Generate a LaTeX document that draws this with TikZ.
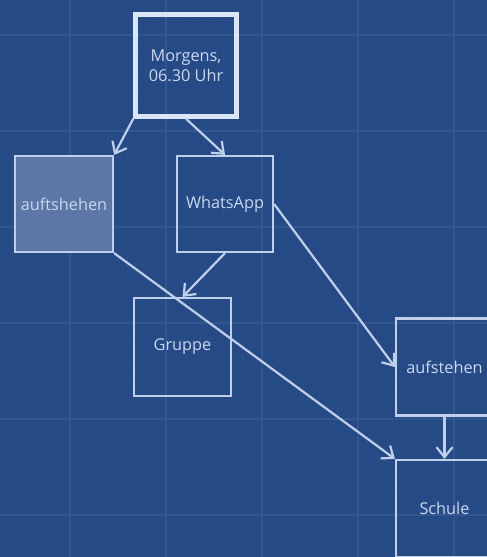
\documentclass[tikz,border=0pt]{standalone}
\usepackage{fontspec}
\setmainfont{Open Sans}
\usetikzlibrary{arrows.meta}
\definecolor{bg}{RGB}{38,74,133}
\definecolor{gmajor}{RGB}{50,86,144}
\definecolor{gminor}{RGB}{42,78,137}
\definecolor{edge}{RGB}{192,208,234}
\definecolor{edgehi}{RGB}{218,229,245}
\definecolor{txt}{RGB}{202,215,237}
\definecolor{boxfill}{RGB}{92,119,166}
\begin{document}
\begin{tikzpicture}[x=1pt,y=-1pt,
  box/.style={draw=edge, line width=2.2pt, minimum width=97pt, minimum height=97pt,
    inner sep=0pt, text=txt, font=\fontsize{16.3}{20}\selectfont, align=center},
  startbox/.style={box, draw=edgehi, line width=4.5pt, minimum width=101pt, minimum height=102pt},
  conn/.style={draw=edge, line width=2.2pt, -{Straight Barb[length=10pt,width=16pt,line width=2.2pt]}}]
\useasboundingbox (0,0) rectangle (487,557);
\fill[bg] (0,0) rectangle (487,557);
\begin{scope}
\clip (0,0) rectangle (487,557);
\foreach \i in {-7,...,26} {
  \draw[gminor, line width=0.8pt] ({-26+19.2*\i},0) -- ({-26+19.2*\i},557);
  \draw[gminor, line width=0.8pt] (0,{35+19.2*(\i-2)}) -- (487,{35+19.2*(\i-2)});
}
\foreach \i in {0,...,6} {
  \draw[gmajor, line width=1.4pt] ({-26+96*\i},0) -- ({-26+96*\i},557);
  \draw[gmajor, line width=1.4pt] (0,{35+96*(\i-1)}) -- (487,{35+96*(\i-1)});
}
\end{scope}
\node[startbox] (m) at (186,65.5) {Morgens,\\06.30 Uhr};
\node[box, fill=boxfill, minimum width=98pt, minimum height=96pt] (a1) at (64,204) {auftshehen};
\node[box, minimum width=96pt, minimum height=96pt] (w) at (225,204) {WhatsApp};
\node[box, minimum height=98pt] (g) at (182.5,347) {Gruppe};
\node[box] (au) at (444.5,367) {aufstehen};
\node[box] (s) at (444.5,508.5) {Schule};
\draw[conn] (m.south west) -- (a1.north east);
\draw[conn] (m.south) -- (w.north);
\draw[conn] (w.south) -- (g.north);
\draw[conn] (w.east) -- (au.west);
\draw[conn] (a1.south east) -- (s.north west);
\draw[conn] (au.south) -- (s.north);
\end{tikzpicture}
\end{document}
